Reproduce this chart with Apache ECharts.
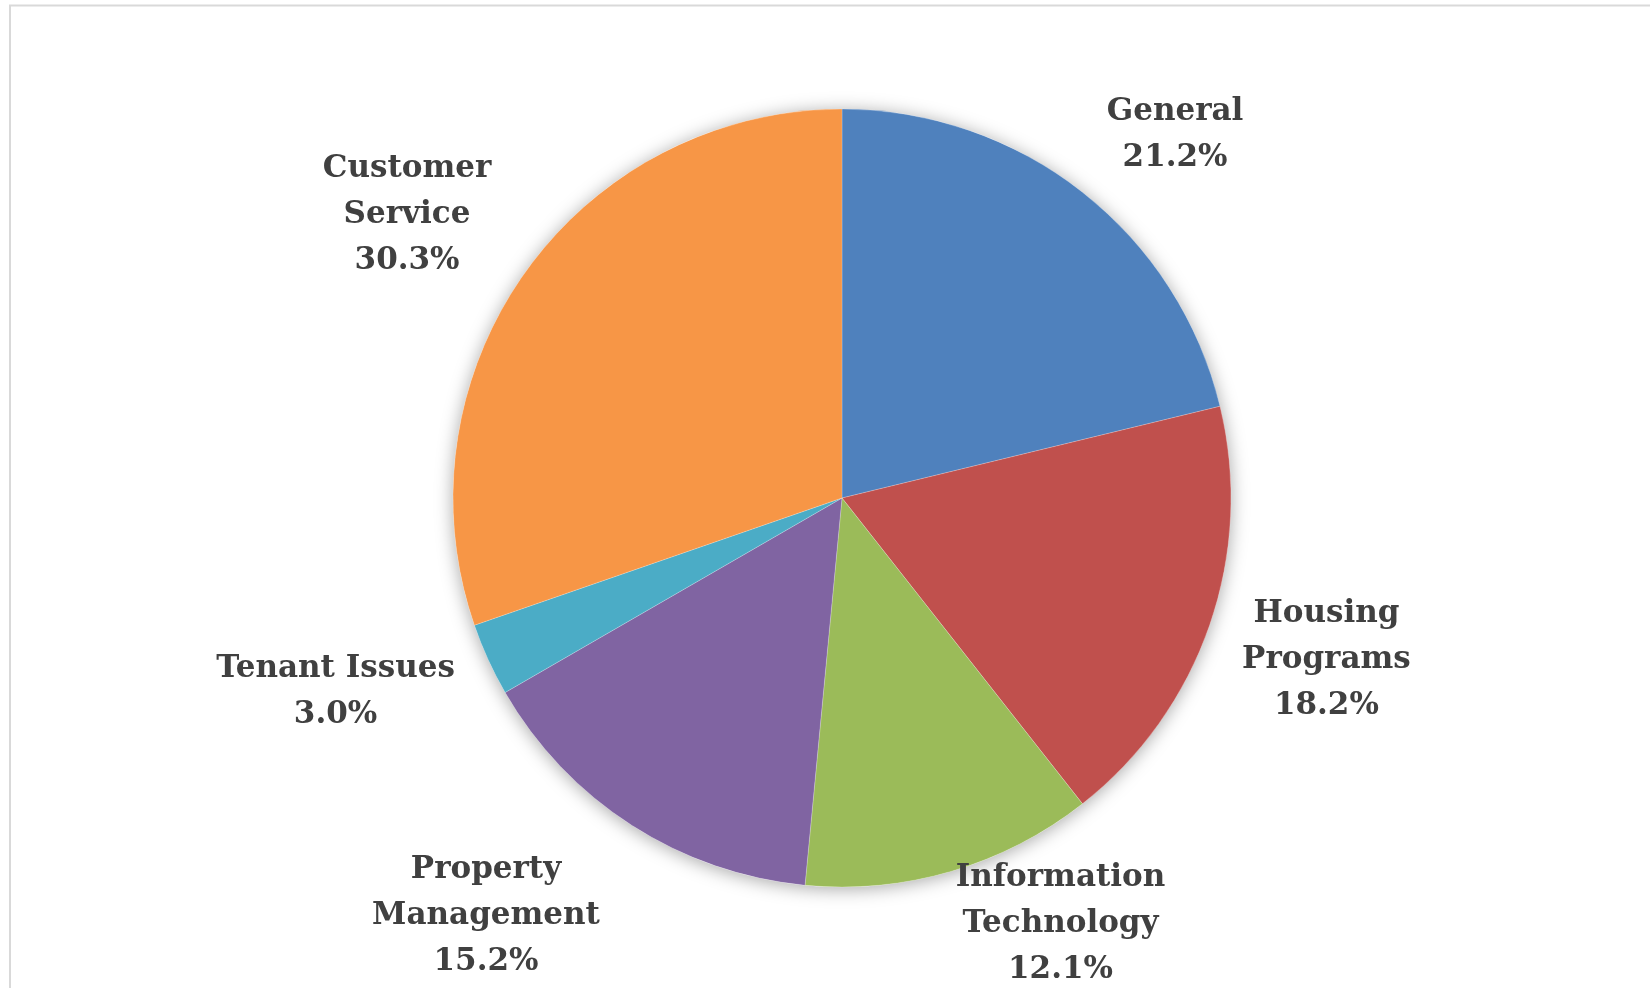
<!DOCTYPE html>
<html>
<head>
<meta charset="utf-8">
<title>Requests by Category</title>
<script src="https://cdn.jsdelivr.net/npm/echarts@6/dist/echarts.min.js"></script>
<style>
  html, body { margin: 0; padding: 0; background: #ffffff; }
  #chart { width: 1650px; height: 988px; }
</style>
</head>
<body>
<div id="chart"></div>
<script>
// Categories and request counts (share of 33 requests)
const categories = ['General', 'Housing\nPrograms', 'Information\nTechnology', 'Property\nManagement', 'Tenant Issues', 'Customer\nService'];
const counts = [7, 6, 4, 5, 1, 10];
const colors = ['#4F81BD', '#C0504D', '#9BBB59', '#8064A2', '#4BACC6', '#F79646'];

// Pie geometry (pixels)
const CX = 842, CY = 498, R = 389;

// Label placement: angular nudge (deg) and clearance from the rim (px)
const labelShift = [4, -1, -11, 8, 4, -2];
const labelGap = [27, 19, -23, 30, 24, 24];
const labelDrop = 4; // text sits slightly low within its line box

const total = counts.reduce((a, b) => a + b, 0);
const midAngles = [];
let acc = 0;
counts.forEach(v => { midAngles.push(360 * (acc + v / 2) / total); acc += v; });

const chart = echarts.init(document.getElementById('chart'), null, { renderer: 'canvas' });

const labelFont = {
  fontFamily: '"DejaVu Serif", "Liberation Serif", serif',
  fontWeight: 'bold',
  fontSize: 31,
  lineHeight: 46,
  color: '#404040'
};

chart.setOption({
  backgroundColor: '#ffffff',
  animation: false,
  graphic: [{
    type: 'polyline',
    silent: true,
    shape: { points: [[10, 1000], [10, 5.5], [1660, 5.5]] },
    style: { stroke: '#d9d9d9', lineWidth: 2, fill: null }
  }],
  series: [
    {
      // soft drop shadow behind the whole pie
      type: 'pie',
      silent: true,
      center: [CX, CY],
      radius: R,
      data: [{ value: 1, name: '' }],
      label: { show: false },
      labelLine: { show: false },
      itemStyle: {
        color: '#ffffff',
        shadowBlur: 18,
        shadowColor: 'rgba(0,0,0,0.35)',
        shadowOffsetX: 0,
        shadowOffsetY: 2
      },
      z: 1
    },
    {
      type: 'pie',
      center: [CX, CY],
      radius: R,
      startAngle: 90,
      clockwise: true,
      percentPrecision: 1,
      avoidLabelOverlap: false,
      data: categories.map((c, i) => ({ name: c, value: counts[i], itemStyle: { color: colors[i] } })),
      itemStyle: { borderColor: 'rgba(255,255,255,0.35)', borderWidth: 0.6 },
      label: Object.assign({
        show: true,
        position: 'outside',
        align: 'center',
        formatter: p => p.name + '\n' + p.percent.toFixed(1) + '%'
      }, labelFont),
      labelLine: { show: false },
      labelLayout: function (p) {
        const i = p.dataIndex;
        const rad = (midAngles[i] + labelShift[i]) * Math.PI / 180;
        const ux = Math.sin(rad), uy = -Math.cos(rad);
        const w = p.labelRect.width / 2, h = p.labelRect.height / 2;
        const d = R + labelGap[i] + w * Math.abs(ux) + h * Math.abs(uy);
        return { x: CX + ux * d, y: CY + uy * d + labelDrop, align: 'center', verticalAlign: 'middle' };
      },
      emphasis: { disabled: true },
      z: 2
    }
  ]
});
</script>
</body>
</html>
